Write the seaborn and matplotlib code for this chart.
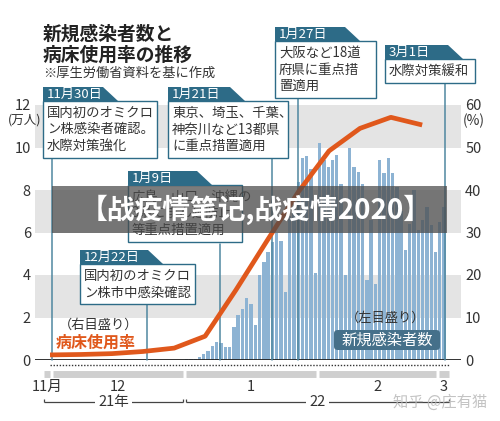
import numpy as np
import pandas as pd
import seaborn as sns
import matplotlib.pyplot as plt
from matplotlib.patches import Polygon, Rectangle, FancyBboxPatch

sns.set_style('white')
plt.rcParams['font.family'] = ['Noto Sans CJK JP', 'DejaVu Sans']

# days counted from 2021-12-01 (= 0)
case_days = list(range(31, 92))
new_cases = [0.03, 0.04, 0.07, 0.12, 0.28, 0.44, 0.66, 0.86, 0.82, 0.60,
             0.60, 1.57, 2.10, 2.40, 2.93, 2.63, 1.65, 4.00, 4.63, 5.10,
             5.57, 6.00, 5.60, 3.20, 6.80, 7.10, 8.40, 9.50, 9.60, 9.00,
             4.10, 10.20, 9.40, 9.10, 9.40, 9.65, 8.30, 4.00, 9.96, 9.10,
             8.86, 8.30, 3.76, 6.60, 3.60, 9.40, 8.80, 9.50, 8.80, 8.16,
             7.00, 5.20, 6.40, 8.00, 6.10, 6.60, 7.20, 6.35, 5.10, 6.50,
             7.20]  # 万人

bed_days = [-0.35, 6.9, 14.1, 21.3, 28.6, 35.8, 43.0, 50.2, 57.5, 64.7, 71.9, 79.1, 86.4]
bed_rate = [1.2, 1.3, 1.5, 2.0, 2.8, 5.6, 16.5, 28.0, 39.5, 49.2, 54.5, 57.1, 55.3]  # %

left_ticks = [0, 2, 4, 6, 8, 10, 12]
right_ticks = [0, 10, 20, 30, 40, 50, 60]

month_labels = ['11月', '12', '1', '2', '3']
month_start = [-2.1, 0, 31, 62, 90]
month_end = [0, 31, 62, 90, 92.9]
year_labels = ['21年', '22']
year_start = [-2.1, 31]
year_end = [31, 92.9]

note_dates = ['11月30日', '1月21日', '1月27日', '3月1日', '1月9日', '12月22日']
note_days = [0.1, 51.4, 57.5, 91.7, 39.3, 22.3]
note_texts = [
    ['国内初のオミクロ', 'ン株感染者確認。', '水際対策強化'],
    ['東京、埼玉、千葉、', '神奈川など13都県', 'に重点措置適用'],
    ['大阪など18道', '府県に重点措', '置適用'],
    ['水際対策緩和'],
    ['広島、山口、沖縄の', '3県にまん延防止', '等重点措置適用'],
    ['国内初のオミクロ', 'ン株市中感染確認'],
]
# layout of the callouts in pixels: tab left, tab right, tab top, box right
note_layout = [
    (43, 103, 87, 157),
    (168, 230, 87, 288),
    (275, 345, 27, 376),
    (385, 448, 45, 475),
    (128, 197, 171, 242),
    (80, 148, 250, 195),
]

W, H = 500, 421
TEAL = '#2d6b87'
LINE_C = '#4f87a0'
BAR_C = '#8db3d3'
ORANGE = '#e0581c'
BAND = '#e4e4e4'


def fx(px):
    return px / W


def fy(py):
    return 1 - py / H


fig = plt.figure(figsize=(5, 4.21), dpi=100)
ax = fig.add_axes([fx(35), fy(360), fx(461) - fx(35), fy(105) - fy(360)])

for lo in (2, 6, 10):
    ax.axhspan(lo, lo + 2, color=BAND, lw=0, zorder=0)

df = pd.DataFrame({'day': np.array(case_days) + 0.5, 'cases': new_cases})
sns.barplot(data=df, x='day', y='cases', native_scale=True, color=BAR_C,
            saturation=1, width=0.78, linewidth=0, errorbar=None, ax=ax, zorder=2)

ax.axhline(0, color='#222222', lw=1.3, zorder=3)
ax.set_xlim(-3.85, 95.45)
ax.set_ylim(0, 12)
ax.set_xticks([])
ax.set_yticks(left_ticks)
ax.set_yticklabels([str(t) for t in left_ticks])
ax.tick_params(axis='y', length=0, pad=3, labelsize=10.5, labelcolor='#333333')
ax.set_xlabel('')
ax.set_ylabel('')
for s in ax.spines.values():
    s.set_visible(False)

ax2 = ax.twinx()
for d, y0 in zip(note_days, [157.5, 157.5, 92.5, 79.5, 243.5, 298]):
    ax2.axvline(d, ymin=0, ymax=(360 - y0) / 255, color=LINE_C, lw=1.1,
                clip_on=False, zorder=1)
sns.lineplot(x=bed_days, y=bed_rate, ax=ax2, color=ORANGE, lw=3.4,
             solid_capstyle='butt', zorder=5)
ax2.set_ylim(0, 60)
ax2.set_xlim(-3.85, 95.45)
ax2.set_yticks(right_ticks)
ax2.set_yticklabels([str(t) for t in right_ticks])
ax2.tick_params(axis='y', length=0, pad=3, labelsize=10.5, labelcolor='#333333')
ax2.set_ylabel('')
ax2.set_xlabel('')
for s in ax2.spines.values():
    s.set_visible(False)

fig.text(fx(25), fy(120), '(万人)', fontsize=9, color='#333333', ha='center', va='center')
fig.text(fx(474), fy(121), '(%)', fontsize=10, color='#333333', ha='center', va='center')

# dotted line and month bars under the axis
ax.hlines(-0.24, -0.3, 92.7, colors='#333333', lw=1.0, linestyles=(0, (1, 1.2)), clip_on=False)
for lab, a, b in zip(month_labels, month_start, month_end):
    ax.hlines(-0.64, a + 0.35, b - 0.35, colors='#cfcfcf', lw=5, clip_on=False)
    ax.text((a + b) / 2, -1.25, lab, ha='center', va='center', fontsize=10.5,
            color='#333333', clip_on=False)
for lab, a, b in zip(year_labels, year_start, year_end):
    ax.hlines(-1.98, a + 0.35, b - 0.35, colors='#444444', lw=0.9, clip_on=False)
    ax.vlines([a + 0.35, b - 0.35], -1.98, -1.82, colors='#444444', lw=0.9, clip_on=False)
    ax.text((a + b) / 2, -1.98, lab, ha='center', va='center', fontsize=10.5, color='#333333',
            clip_on=False, bbox=dict(facecolor='white', edgecolor='none', pad=2.5))

# titles
fig.text(fx(43), fy(34), '新規感染者数と', fontsize=13.5, weight='bold', color='#222222', va='center')
fig.text(fx(43), fy(55), '病床使用率の推移', fontsize=13.5, weight='bold', color='#222222', va='center')
fig.text(fx(43), fy(73), '※厚生労働省資料を基に作成', fontsize=9.5, color='#333333', va='center')

# callouts
for date, lines, (x0, x1, top, bx1) in zip(note_dates, note_texts, note_layout):
    btop = top + 14
    bbot = btop + 16.5 * len(lines) + 7
    tab = Polygon([(fx(x0), fy(top)), (fx(x1), fy(top)), (fx(x1 + 15), fy(btop)), (fx(x0), fy(btop))],
                  closed=True, transform=fig.transFigure, facecolor=TEAL, edgecolor='none', zorder=5)
    fig.add_artist(tab)
    box = Rectangle((fx(x0), fy(bbot)), fx(bx1) - fx(x0), fy(btop) - fy(bbot),
                    transform=fig.transFigure, facecolor='white', edgecolor=TEAL, lw=1.0, zorder=5)
    fig.add_artist(box)
    fig.text(fx(x0 + 4), fy(top + 7.5), date, fontsize=9.5, color='white', va='center', zorder=6)
    for i, t in enumerate(lines):
        fig.text(fx(x0 + 4), fy(btop + 12 + 16.5 * i), t, fontsize=9.6, color='#333333',
                 va='center', zorder=6)

# series labels
fig.text(fx(99), fy(325), '（右目盛り）', fontsize=9.5, color='#333333', ha='center', va='center', zorder=6)
fig.text(fx(96), fy(343), '病床使用率', fontsize=11.5, weight='bold', color=ORANGE, ha='center', va='center', zorder=6)
fig.text(fx(386), fy(318), '（左目盛り）', fontsize=9.5, color='#333333', ha='center', va='center', zorder=6)
lab_box = FancyBboxPatch((fx(334), fy(350)), fx(440) - fx(334), fy(330) - fy(350),
                         boxstyle='round,pad=0,rounding_size=0.008', transform=fig.transFigure,
                         facecolor='#45708a', edgecolor='none', zorder=5)
fig.add_artist(lab_box)
fig.text(fx(387), fy(340), '新規感染者数', fontsize=11, color='white', ha='center', va='center', zorder=6)

# overlaid banner and watermark
banner = Rectangle((fx(52), fy(233)), fx(447) - fx(52), fy(186) - fy(233), transform=fig.transFigure,
                   facecolor='#4a4a4a', alpha=0.72, edgecolor='none', zorder=10)
fig.add_artist(banner)
fig.text(fx(256), fy(210), '【战疫情笔记,战疫情2020】', fontsize=20, weight='bold', color='white',
         ha='center', va='center', family=['Noto Sans CJK SC', 'DejaVu Sans'], zorder=11)
fig.text(fx(440), fy(402), '知乎 @庄有猫', fontsize=11, color='#bdbdbd', alpha=0.9, ha='center', va='center',
         family=['Noto Sans CJK SC', 'DejaVu Sans'], zorder=11)

fig.savefig('out.png', dpi=100, facecolor='white')
